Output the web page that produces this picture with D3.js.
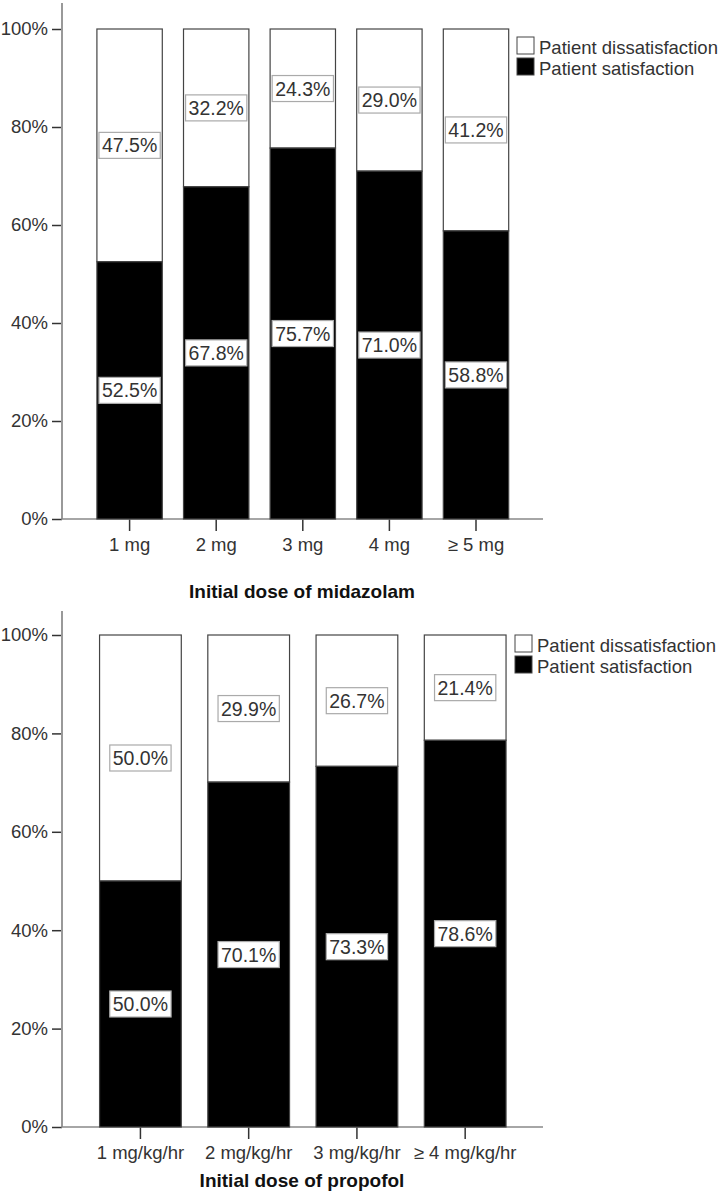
<!DOCTYPE html>
<html>
<head>
<meta charset="utf-8">
<script src="https://cdn.jsdelivr.net/npm/d3@7"></script>
<style>
  html, body { margin: 0; padding: 0; background: #fff; }
  svg { display: block; font-family: Arial, "Liberation Sans", sans-serif; }
</style>
</head>
<body>
<svg id="chart" width="725" height="1194"></svg>
<script>
// ---- data ----
const seriesNames = ["Patient dissatisfaction", "Patient satisfaction"];
const yTicks = [0, 20, 40, 60, 80, 100];

const midazolamCats = ["1 mg", "2 mg", "3 mg", "4 mg", "\u2265 5 mg"];
const midazolamSat = [52.5, 67.8, 75.7, 71.0, 58.8];
const midazolamDis = [47.5, 32.2, 24.3, 29.0, 41.2];
const midazolamTitle = "Initial dose of midazolam";

const propofolCats = ["1 mg/kg/hr", "2 mg/kg/hr", "3 mg/kg/hr", "\u2265 4 mg/kg/hr"];
const propofolSat = [50.0, 70.1, 73.3, 78.6];
const propofolDis = [50.0, 29.9, 26.7, 21.4];
const propofolTitle = "Initial dose of propofol";

// ---- drawing ----
const svg = d3.select("#chart");
const fmt = v => v.toFixed(1) + "%";

function panel(opt) {
  const g = svg.append("g");
  const x = d3.scaleBand().domain(opt.cats).range([86.3, 519.3])
    .paddingInner(0.245).paddingOuter(0.1225);
  const y = d3.scaleLinear().domain([0, 100]).range([opt.y0, opt.y100]);

  // y axis
  const ya = g.append("g").attr("transform", `translate(62,0)`)
    .call(d3.axisLeft(y).tickValues(yTicks).tickSize(10).tickPadding(4)
      .tickFormat(d => d + "%"));
  ya.select(".domain").remove();
  ya.selectAll(".tick line").attr("stroke", "#333").attr("stroke-width", 1.5);
  ya.selectAll(".tick text").attr("font-size", 18.5).attr("fill", "#333")
    .attr("font-family", "Arial, 'Liberation Sans', sans-serif");
  g.append("line").attr("x1", 62).attr("x2", 62).attr("y1", opt.axisTop).attr("y2", opt.y0)
    .attr("stroke", "#999").attr("stroke-width", 2);

  // x axis
  const xa = g.append("g").attr("transform", `translate(0,${opt.y0})`)
    .call(d3.axisBottom(x).tickSize(12).tickSizeOuter(0));
  xa.select(".domain").remove();
  xa.selectAll(".tick line").attr("stroke", "#333").attr("stroke-width", 1.5);
  xa.selectAll(".tick text").attr("font-size", 18.5).attr("fill", "#333")
    .attr("font-family", "Arial, 'Liberation Sans', sans-serif")
    .attr("y", 32).attr("dy", 0);
  g.append("line").attr("x1", 61).attr("x2", 543).attr("y1", opt.y0).attr("y2", opt.y0)
    .attr("stroke", "#888").attr("stroke-width", 1.5);

  // bars
  const rows = opt.cats.map((c, i) => ({ c, sat: opt.sat[i], dis: opt.dis[i] }));
  const bg = g.append("g");
  rows.forEach(r => {
    bg.append("rect").attr("x", x(r.c)).attr("width", x.bandwidth())
      .attr("y", y(r.sat + r.dis)).attr("height", y(r.sat) - y(r.sat + r.dis))
      .attr("fill", "#fff").attr("stroke", "#444").attr("stroke-width", 1.2);
    bg.append("rect").attr("x", x(r.c)).attr("width", x.bandwidth())
      .attr("y", y(r.sat)).attr("height", y(0) - y(r.sat))
      .attr("fill", "#000").attr("stroke", "#444").attr("stroke-width", 1.2);
  });

  // value labels
  const lg = g.append("g");
  rows.forEach(r => {
    [[r.sat / 2, r.sat], [r.sat + r.dis / 2, r.dis]].forEach(([pos, v]) => {
      const cx = x(r.c) + x.bandwidth() / 2, cy = y(pos);
      const box = lg.append("rect").attr("fill", "#fff").attr("stroke", "#aaa").attr("stroke-width", 1.2);
      const t = lg.append("text").attr("x", cx).attr("y", cy).attr("dy", "0.36em")
        .attr("text-anchor", "middle").attr("font-size", 19.5).attr("fill", "#333").text(fmt(v));
      const bb = t.node().getBBox();
      box.attr("x", cx - bb.width / 2 - 3).attr("width", bb.width + 6)
        .attr("y", cy - 13).attr("height", 26);
    });
  });

  // axis title
  g.append("text").attr("x", 302).attr("y", opt.titleY).attr("text-anchor", "middle")
    .attr("font-size", 19).attr("font-weight", "bold").attr("fill", "#111").text(opt.title);

  // legend
  const leg = g.append("g");
  const fills = ["#fff", "#000"];
  seriesNames.forEach((n, i) => {
    const by = opt.legY + i * 21;
    leg.append("rect").attr("x", opt.legX).attr("y", by - 17).attr("width", 17).attr("height", 17)
      .attr("fill", fills[i]).attr("stroke", "#444").attr("stroke-width", 1);
    leg.append("text").attr("x", opt.legX + 22).attr("y", by).attr("font-size", 18.5)
      .attr("fill", "#333").text(n);
  });
}

panel({ cats: midazolamCats, sat: midazolamSat, dis: midazolamDis, title: midazolamTitle,
        y0: 519, y100: 29, axisTop: 3, titleY: 598, legX: 517, legY: 54 });
panel({ cats: propofolCats, sat: propofolSat, dis: propofolDis, title: propofolTitle,
        y0: 1127, y100: 635, axisTop: 611, titleY: 1187, legX: 515, legY: 652 });
</script>
</body>
</html>
